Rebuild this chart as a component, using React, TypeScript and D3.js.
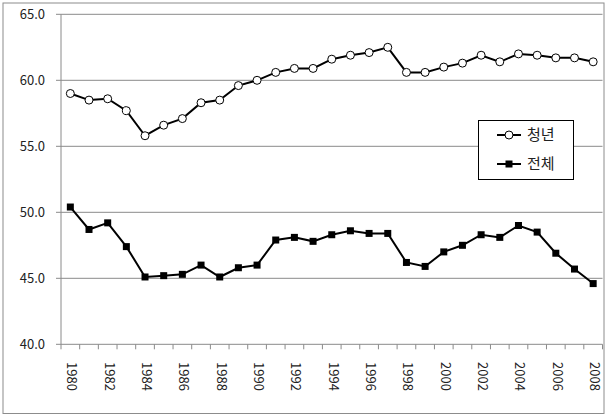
import React from "react";
import * as d3 from "d3";

const years: number[] = d3.range(1980, 2009);
const youth: number[] = [59.0, 58.5, 58.6, 57.7, 55.8, 56.6, 57.1, 58.3, 58.5, 59.6, 60.0, 60.6, 60.9, 60.9, 61.6, 61.9, 62.1, 62.5, 60.6, 60.6, 61.0, 61.3, 61.9, 61.4, 62.0, 61.9, 61.7, 61.7, 61.4];
const total: number[] = [50.4, 48.7, 49.2, 47.4, 45.1, 45.2, 45.3, 46.0, 45.1, 45.8, 46.0, 47.9, 48.1, 47.8, 48.3, 48.6, 48.4, 48.4, 46.2, 45.9, 47.0, 47.5, 48.3, 48.1, 49.0, 48.5, 46.9, 45.7, 44.6];
const yTicks: number[] = [40, 45, 50, 55, 60, 65];
const seriesNames: string[] = ["청년", "전체"];

const W = 607, H = 417;
const left = 61, right = 602.5, top = 14.3, bottom = 344.3;

export default function App() {
  const x = d3.scaleBand<number>().domain(years).range([left, right]);
  const y = d3.scaleLinear().domain([40, 65]).range([bottom, top]);
  const line = d3.line<number>().x((_, i) => (x(years[i]) as number) + x.bandwidth() / 2).y((d) => y(d));
  const cx = (i: number) => (x(years[i]) as number) + x.bandwidth() / 2;
  const font = "'Noto Sans CJK KR', 'DejaVu Sans', sans-serif";
  const boundaries = years.map((yr) => x(yr) as number).concat([right]);
  return (
    <svg width={W} height={H} style={{ position: "absolute", left: 0, top: 0 }} fontFamily={font}>
      <rect x={0} y={0} width={W} height={H} fill="#fff" />
      <rect x={3} y={3} width={601} height={410.5} fill="none" stroke="#8c8c8c" strokeWidth={1} />
      {yTicks.map((t) => (
        <g key={t}>
          {t > 40 && <line x1={left} x2={right} y1={y(t)} y2={y(t)} stroke="#8a8a8a" strokeWidth={1} />}
          <line x1={left - 5} x2={left} y1={y(t)} y2={y(t)} stroke="#8a8a8a" strokeWidth={1} />
          <text x={45} y={y(t)} dy="0.35em" textAnchor="end" fontSize={13} fill="#222">
            {t.toFixed(1)}
          </text>
        </g>
      ))}
      <line x1={left} x2={left} y1={top} y2={bottom} stroke="#8a8a8a" strokeWidth={1} />
      <line x1={left} x2={right} y1={bottom} y2={bottom} stroke="#8a8a8a" strokeWidth={1} />
      {boundaries.map((b, i) => (
        <line key={i} x1={b} x2={b} y1={bottom} y2={bottom + 5} stroke="#8a8a8a" strokeWidth={1} />
      ))}
      {years.map((yr, i) =>
        yr % 2 === 0 ? (
          <text key={yr} transform={`translate(${cx(i) + 1.5},${362}) rotate(90)`} dy="0.35em" fontSize={13} fill="#222">
            {yr}
          </text>
        ) : null
      )}
      <path d={line(youth) || ""} fill="none" stroke="#000" strokeWidth={2} />
      <path d={line(total) || ""} fill="none" stroke="#000" strokeWidth={2} />
      {youth.map((v, i) => (
        <circle key={i} cx={cx(i)} cy={y(v)} r={4} fill="#fff" stroke="#000" strokeWidth={1} />
      ))}
      {total.map((v, i) => (
        <rect key={i} x={cx(i) - 3.5} y={y(v) - 3.5} width={7} height={7} fill="#000" />
      ))}
      <rect x={478.5} y={120.5} width={95} height={59} fill="#fff" stroke="#000" strokeWidth={1} />
      <line x1={497} x2={521} y1={135} y2={135} stroke="#000" strokeWidth={2} />
      <circle cx={509} cy={135} r={4} fill="#fff" stroke="#000" strokeWidth={1} />
      <text x={527} y={135} dy="0.35em" fontSize={15} fill="#222">{seriesNames[0]}</text>
      <line x1={497} x2={521} y1={164} y2={164} stroke="#000" strokeWidth={2} />
      <rect x={505.5} y={160.5} width={7} height={7} fill="#000" />
      <text x={527} y={164} dy="0.35em" fontSize={15} fill="#222">{seriesNames[1]}</text>
    </svg>
  );
}
